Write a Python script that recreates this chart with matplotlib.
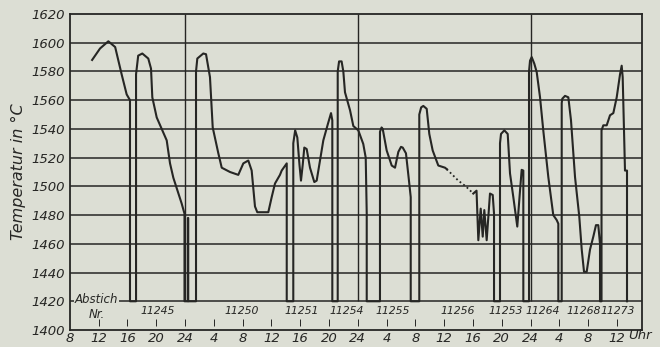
import numpy as np
import matplotlib
matplotlib.use("Agg")
import matplotlib.pyplot as plt

plt.rcParams["font.family"] = ["DejaVu Sans Condensed", "DejaVu Sans"]

# Temperature trace (hours counted from day 1, 0 Uhr)
hours_a = [11.1, 12.2, 13.35, 14.3, 15.2, 15.9, 16.36, 16.36, 17.2, 17.2, 17.5, 18.07,
           18.9, 19.28, 19.46, 20.07, 21.46, 21.92, 22.38, 23.54, 23.93, 23.93, 24.4,
           24.4, 24.45, 24.45, 25.53, 25.53, 25.71, 26.54, 26.92, 27.47, 27.85, 28.63,
           29.1, 30.25, 31.4, 32.1, 32.79, 33.26, 33.72, 34.04, 35.57, 36.04, 36.5,
           37.19, 37.43, 38.13, 38.13, 39.04, 39.04, 39.3, 39.6, 39.9, 40.11, 40.35,
           40.57, 40.9, 41.36, 41.96, 42.29, 42.75, 43.21, 43.82, 44.28, 44.46, 44.46,
           45.21, 45.21, 45.4, 45.75, 45.99, 46.22, 46.92, 47.38, 48.07, 48.76, 49.1,
           49.24, 49.24, 51.08, 51.08, 51.3, 51.46, 52.01, 52.71, 53.17, 53.63, 54.0,
           54.24, 54.69, 55.15, 55.35, 55.35, 56.54, 56.54, 56.8, 57.1, 57.57, 57.93,
           58.4, 59.18, 60.11, 60.35]
temps_a = [1588, 1596, 1601, 1597, 1578, 1564, 1560, 1420, 1420, 1578, 1591, 1592.5,
           1589, 1582, 1562, 1548, 1532, 1516, 1506, 1488, 1481, 1420, 1420,
           1478, 1478, 1420, 1420, 1580, 1589, 1592.5, 1592, 1576, 1541, 1523,
           1513, 1510, 1508, 1516, 1518, 1511, 1486, 1482, 1482, 1492.5, 1502,
           1508, 1511, 1516, 1420, 1420, 1530, 1539, 1534, 1515, 1504, 1515,
           1527, 1526, 1513, 1503, 1504, 1518, 1532, 1543, 1551, 1546, 1420,
           1420, 1580, 1587, 1587, 1580, 1565.5, 1553, 1542, 1539, 1529.5, 1520,
           1481, 1420, 1420, 1538, 1541, 1540, 1525, 1514.5, 1513, 1524, 1527.5,
           1527, 1523, 1502, 1492.5, 1420, 1420, 1550, 1555, 1556, 1554, 1536.5,
           1525, 1514.5, 1513, 1512]

# gap in the record, drawn dotted
hours_dotted = [60.35, 61.96, 63.0, 64.04]
temps_dotted = [1512, 1504, 1500, 1495]

hours_b = [64.04, 64.49, 64.74, 65.07, 65.35, 65.57, 65.9, 66.36, 66.74, 66.92, 66.92,
           67.75, 67.75, 67.89, 68.35, 68.82, 69.14, 69.6, 70.15, 70.53, 70.76, 70.99,
           70.99, 71.78, 71.78, 71.92, 72.15, 72.51, 72.85, 73.31, 73.76, 74.46, 75.15,
           75.63, 75.85, 75.85, 76.32, 76.32, 76.4, 76.78, 77.24, 77.61, 78.17, 78.76,
           79.1, 79.42, 79.79, 80.25, 80.71, 81.08, 81.4, 81.64, 81.64, 81.85, 81.85,
           82.1, 82.57, 83.03, 83.49, 83.96, 84.42, 84.65, 84.79, 85.11, 85.39, 85.39]
temps_b = [1495, 1497, 1462.5, 1484.5, 1465, 1483.5, 1462.5, 1495, 1494, 1481, 1420,
           1420, 1530, 1536.5, 1539, 1536.5, 1509, 1492.5, 1472, 1497, 1511.5, 1511,
           1420, 1420, 1580, 1587.5, 1590, 1585.5, 1579.5, 1562, 1539, 1506.5, 1480,
           1476.5, 1474, 1420, 1420, 1558, 1561, 1563, 1562, 1546, 1506.5, 1479,
           1456, 1440.5, 1440.5, 1456, 1465, 1473, 1473, 1460, 1420, 1420, 1539,
           1542.5, 1542.5, 1549.5, 1551, 1562, 1578, 1584, 1576, 1511, 1511, 1420]

# tap (Abstich) numbers and where they are written
tap_numbers = ["11245", "11250", "11251", "11254", "11255", "11256",
               "11253", "11264", "11268", "11273"]
tap_hours = [20.25, 31.9, 40.25, 46.5, 52.9, 61.8, 68.6, 73.7, 79.3, 84.1]

tick_hours = list(range(8, 85, 4))
tick_labels = ["8", "12", "16", "20", "24", "4", "8", "12", "16", "20",
               "24", "4", "8", "12", "16", "20", "24", "4", "8", "12"]
midnights = [24, 48, 72]

bg = "#dcded4"
ink = "#262624"

fig = plt.figure(figsize=(6.6, 3.47), dpi=100, facecolor=bg)
ax = fig.add_axes([69.8 / 660, 17 / 347, (642.2 - 69.8) / 660, (330 - 14) / 347])
ax.set_facecolor(bg)

ax.set_xlim(8, 87.5)
ax.set_ylim(1400, 1620)

# grid
for t in range(1420, 1620, 20):
    ax.axhline(t, color=ink, lw=1.1, zorder=1)
ax.vlines(midnights, 1420, 1620, color=ink, lw=1.0, zorder=1)
ax.vlines(tick_hours[1:], 1403, 1408, color=ink, lw=0.7, zorder=1)

# trace
ax.plot(hours_a, temps_a, color=ink, lw=1.5, zorder=3)
ax.plot(hours_dotted, temps_dotted, color=ink, lw=1.3, ls=(0, (1, 1.5)), zorder=3)
ax.plot(hours_b, temps_b, color=ink, lw=1.5, zorder=3)

for s in ax.spines.values():
    s.set_color(ink)
    s.set_linewidth(1.3)

txt = dict(color=ink, style="italic")
ax.set_yticks(range(1400, 1621, 20))
ax.set_yticklabels([str(v) for v in range(1400, 1621, 20)], fontsize=9.5, **txt)
ax.set_xticks(tick_hours)
ax.set_xticklabels(tick_labels, fontsize=9.5, **txt)
ax.tick_params(length=0, pad=1.5)
ax.tick_params(axis="y", pad=3.5)
ax.text(85.6, 1400.5, "Uhr", fontsize=9.5, ha="left", va="top", **txt)

ax.set_ylabel("Temperatur in °C", fontsize=11.5, labelpad=4, **txt)

ax.text(8.7, 1421.5, "Abstich", fontsize=8.5, ha="left", va="center", zorder=2,
        bbox=dict(facecolor=bg, edgecolor="none", pad=0.3), **txt)
ax.text(11.7, 1411, "Nr.", fontsize=8.5, ha="center", va="center", **txt)
for num, h in zip(tap_numbers, tap_hours):
    ax.text(h, 1413, num, fontsize=7.8, ha="center", va="center", **txt)

fig.savefig("out.png", dpi=100, facecolor=bg)
